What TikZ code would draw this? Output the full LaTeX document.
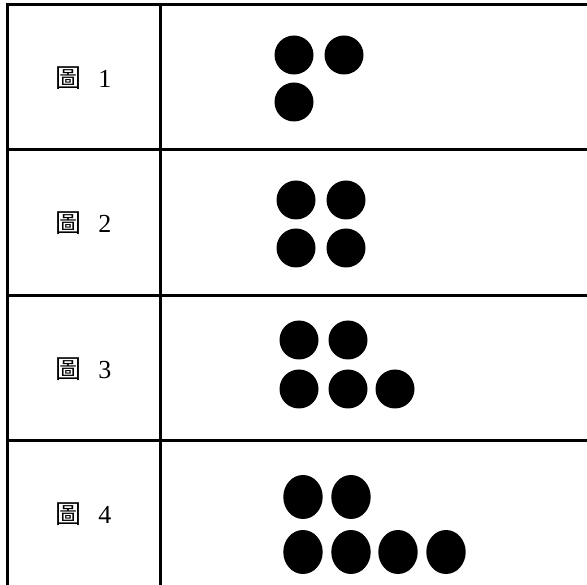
\documentclass[tikz,border=0pt]{standalone}
\usepackage{fontspec}
\setmainfont{Liberation Serif}
\newfontfamily\cjk{Noto Sans CJK TC}
\tikzset{
  rule/.style={line width=3pt},
  label/.style={font=\fontsize{26}{30}\selectfont, inner sep=0pt},
  dot/.style={fill=black}
}
\begin{document}
\begin{tikzpicture}[x=1pt,y=-1pt]
  \useasboundingbox (0,0) rectangle (587,585);
  % table rules
  \draw[rule] (7,585) -- (7,5) -- (587,5);
  \foreach \y in {150,296,441}
    \draw[rule] (7,\y) -- (587,\y);
  \draw[rule] (160,5) -- (160,585);
  % row labels
  \foreach \n/\y in {1/78,2/223,3/369,4/514}
    \node[label] (fig\n) at (83.5,\y) {{\cjk 圖}\hspace{17pt}\n};
  % dots
  \foreach \x/\y in {294/55,344/55,294/102}
    \fill[dot] (\x,\y) circle (19.5);
  \foreach \x/\y in {296/200,346/200,296/248,346/248}
    \fill[dot] (\x,\y) circle (19.5);
  \foreach \x/\y in {299/340,348/340,299/389,348/389,395/389}
    \fill[dot] (\x,\y) circle (19.5);
  \foreach \x/\y in {303/497,351/497,303/552,351/552,398/552,446/552}
    \fill[dot] (\x,\y) ellipse [x radius=19.7, y radius=22];
\end{tikzpicture}
\end{document}
